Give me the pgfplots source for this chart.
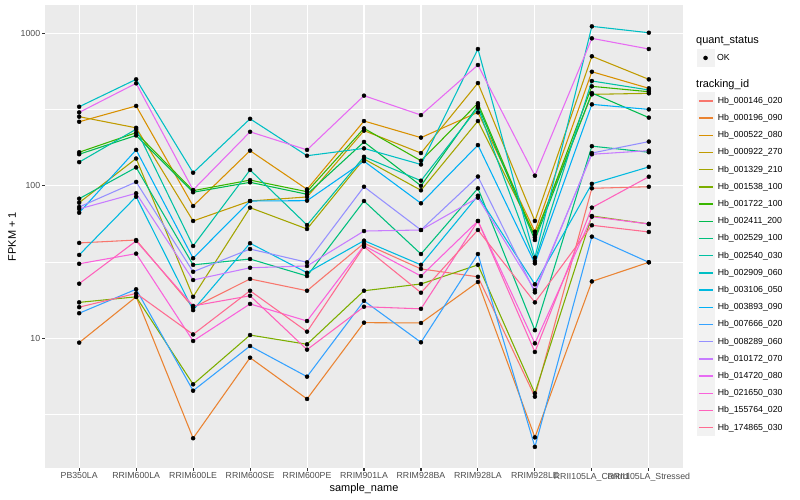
\documentclass[border=0pt]{standalone}
\usepackage{fontspec}
\setmainfont{Liberation Sans}
\usepackage{pgfplots}
\usepackage{pgfplotstable}
\pgfplotsset{compat=1.18}
\definecolor{c1}{HTML}{F8766D}
\definecolor{c2}{HTML}{EA8331}
\definecolor{c3}{HTML}{D89000}
\definecolor{c4}{HTML}{C09B00}
\definecolor{c5}{HTML}{A3A500}
\definecolor{c6}{HTML}{7CAE00}
\definecolor{c7}{HTML}{39B600}
\definecolor{c8}{HTML}{00BB4E}
\definecolor{c9}{HTML}{00BF7D}
\definecolor{c10}{HTML}{00C1A3}
\definecolor{c11}{HTML}{00BFC4}
\definecolor{c12}{HTML}{00BAE0}
\definecolor{c13}{HTML}{00B0F6}
\definecolor{c14}{HTML}{35A2FF}
\definecolor{c15}{HTML}{9590FF}
\definecolor{c16}{HTML}{C77CFF}
\definecolor{c17}{HTML}{E76BF3}
\definecolor{c18}{HTML}{FA62DB}
\definecolor{c19}{HTML}{FF62BC}
\definecolor{c20}{HTML}{FF6C91}
\definecolor{panelbg}{HTML}{EBEBEB}
\definecolor{keybg}{HTML}{F2F2F2}
\definecolor{gray30}{HTML}{4D4D4D}
\definecolor{gray20}{HTML}{333333}

\pgfplotstableread{
x s1 s2 s3 s4 s5 s6 s7 s8 s9 s10 s11 s12 s13 s14 s15 s16 s17 s18 s19 s20
0 42.2 9.36 263 284 77.5 17.2 166 161 82.3 143 330 35.2 66.6 14.6 72.6 70.5 303 30.8 22.8 16.0
1 44.1 18.7 334 240 151 18.7 223 214 132 235 499 84.8 172 20.96 106 89.3 470 35.9 43.5 19.7
2 15.9 2.21 73.7 58.8 18.7 4.99 92.9 90.7 30.3 40.3 121.8 15.3 33.5 4.53 27.3 24.1 93.9 9.60 16.3 10.6
3 24.5 7.46 170 79.5 71.9 10.5 109 105.4 33.1 127 275 42.0 79.5 8.90 38.5 29.0 226 16.8 19.0 20.5
4 20.5 4.00 94.8 84.5 52.1 9.13 91.5 88.0 25.6 55.3 157.5 26.9 79.9 5.60 31.5 29.8 172 12.98 8.42 11.05
5 42.0 12.66 266 230 150 20.5 238 194 79.5 155 176 43.7 145 17.6 98.6 50.5 390 40.5 16.1 39.9
6 28.5 12.6 207 164 93.4 22.7 146 100 35.7 108 138 30.3 76.8 9.41 51.3 51.3 291 25.6 15.6 19.9
7 25.3 23.4 303 472 266 30.3 348 335 96.3 325 789 86.1 185 35.7 115 83.6 620 58.8 58.8 51.3
8 4.14 2.24 50.0 58.8 47.6 4.36 45.9 44.1 11.3 32.1 33.8 22.6 31.0 1.94 20.0 20.7 116.5 9.27 8.13 17.2
9 96.3 23.6 560 707 398 63.4 449 406 182 487 1111 103 342 46.4 164 161 927 62.7 71.9 55.1
10 98.6 31.5 436 499 404 56.2 414 280 166 425 1009 133 317 31.5 195 170 789 56.2 114.7 49.8
}\fpkm

\pgfplotsset{
  ggkey/.style={legend image code/.code={
      \fill[keybg] (0bp,-8.06bp) rectangle (17.28bp,8.06bp);
      \draw[##1,line width=1.4bp] (1.73bp,0bp) -- (15.55bp,0bp);}},
  gglegend/.style={legend cell align=left,
    legend style={draw=none, fill=none, inner sep=0pt, outer sep=0pt,
      row sep=0pt, column sep=2.7bp,
      font=\fontsize{8.8}{10}\selectfont, nodes={inner sep=0pt}}},
}

\begin{document}
\begin{tikzpicture}
\useasboundingbox (-45bp,-32bp) rectangle (755bp,468bp);
\begin{axis}[
  scale only axis, width=638bp, height=462.7bp,
  ymode=log, ymin=1.41, ymax=1527, xmin=-0.6, xmax=10.6,
  axis background/.style={fill=panelbg},
  axis line style={draw=none},
  xtick={0,1,2,3,4,5,6,7,8,9,10},
  xticklabels={PB350LA,RRIM600LA,RRIM600LE,RRIM600SE,RRIM600PE,RRIM901LA,RRIM928BA,RRIM928LA,RRIM928LE,RRII105LA\_Control,RRII105LA\_Stressed},
  ytick={10,100,1000}, yticklabels={10,100,1000},
  minor ytick={3.1623,31.623,316.23},
  xmajorgrids, ymajorgrids, yminorgrids,
  major grid style={white, line width=1.07bp},
  minor grid style={white, line width=0.53bp},
  tick align=outside, tick pos=left,
  major tick length=2.7bp, minor tick length=0bp,
  every tick/.style={gray20, line width=1.07bp},
  xticklabel style={font=\fontsize{8.8}{10}\selectfont, text=gray30, anchor=north, inner sep=0pt, yshift=-1.9bp},
  yticklabel style={font=\fontsize{8.8}{10}\selectfont, text=gray30, anchor=east, inner sep=0pt, xshift=-1.9bp},
  /pgf/number format/assume math mode=true,
  xlabel={sample\_name}, ylabel={FPKM + 1},
  every axis x label/.style={at={(axis description cs:0.5,-0.0443)}, anchor=center, font=\fontsize{11}{13}\selectfont},
  every axis y label/.style={at={(axis description cs:-0.05172,0.5)}, anchor=center, rotate=90, font=\fontsize{11}{13}\selectfont},
  gglegend,
  legend style={at={(axis description cs:1.02147,0.81176)}, anchor=north west},
]
\addplot[c1, line width=1.07bp, ggkey] table[x=x,y=s1]{\fpkm}; \addlegendentry{Hb\_000146\_020}
\addplot[c2, line width=1.07bp, ggkey] table[x=x,y=s2]{\fpkm}; \addlegendentry{Hb\_000196\_090}
\addplot[c3, line width=1.07bp, ggkey] table[x=x,y=s3]{\fpkm}; \addlegendentry{Hb\_000522\_080}
\addplot[c4, line width=1.07bp, ggkey] table[x=x,y=s4]{\fpkm}; \addlegendentry{Hb\_000922\_270}
\addplot[c5, line width=1.07bp, ggkey] table[x=x,y=s5]{\fpkm}; \addlegendentry{Hb\_001329\_210}
\addplot[c6, line width=1.07bp, ggkey] table[x=x,y=s6]{\fpkm}; \addlegendentry{Hb\_001538\_100}
\addplot[c7, line width=1.07bp, ggkey] table[x=x,y=s7]{\fpkm}; \addlegendentry{Hb\_001722\_100}
\addplot[c8, line width=1.07bp, ggkey] table[x=x,y=s8]{\fpkm}; \addlegendentry{Hb\_002411\_200}
\addplot[c9, line width=1.07bp, ggkey] table[x=x,y=s9]{\fpkm}; \addlegendentry{Hb\_002529\_100}
\addplot[c10, line width=1.07bp, ggkey] table[x=x,y=s10]{\fpkm}; \addlegendentry{Hb\_002540\_030}
\addplot[c11, line width=1.07bp, ggkey] table[x=x,y=s11]{\fpkm}; \addlegendentry{Hb\_002909\_060}
\addplot[c12, line width=1.07bp, ggkey] table[x=x,y=s12]{\fpkm}; \addlegendentry{Hb\_003106\_050}
\addplot[c13, line width=1.07bp, ggkey] table[x=x,y=s13]{\fpkm}; \addlegendentry{Hb\_003893\_090}
\addplot[c14, line width=1.07bp, ggkey] table[x=x,y=s14]{\fpkm}; \addlegendentry{Hb\_007666\_020}
\addplot[c15, line width=1.07bp, ggkey] table[x=x,y=s15]{\fpkm}; \addlegendentry{Hb\_008289\_060}
\addplot[c16, line width=1.07bp, ggkey] table[x=x,y=s16]{\fpkm}; \addlegendentry{Hb\_010172\_070}
\addplot[c17, line width=1.07bp, ggkey] table[x=x,y=s17]{\fpkm}; \addlegendentry{Hb\_014720\_080}
\addplot[c18, line width=1.07bp, ggkey] table[x=x,y=s18]{\fpkm}; \addlegendentry{Hb\_021650\_030}
\addplot[c19, line width=1.07bp, ggkey] table[x=x,y=s19]{\fpkm}; \addlegendentry{Hb\_155764\_020}
\addplot[c20, line width=1.07bp, ggkey] table[x=x,y=s20]{\fpkm}; \addlegendentry{Hb\_174865\_030}
\pgfplotsinvokeforeach{1,...,20}{
  \addplot[only marks, mark=*, mark size=2bp, black, forget plot] table[x=x,y=s#1]{\fpkm};
}
\end{axis}
\begin{axis}[
  scale only axis, width=638bp, height=462.7bp, hide axis,
  xmin=0, xmax=1, ymin=0, ymax=1,
  gglegend,
  legend style={at={(axis description cs:1.02147,0.90534)}, anchor=north west},
]
\addlegendimage{legend image code/.code={
  \fill[keybg] (0bp,-8.64bp) rectangle (17.28bp,8.64bp);
  \fill[black] (8.64bp,0bp) circle (2bp);}}
\addlegendentry{OK}
\end{axis}
\node[anchor=west, inner sep=0pt, font=\fontsize{11}{13}\selectfont] at (651bp,427.3bp) {quant\_status};
\node[anchor=west, inner sep=0pt, font=\fontsize{11}{13}\selectfont] at (651bp,383.7bp) {tracking\_id};
\end{tikzpicture}
\end{document}
